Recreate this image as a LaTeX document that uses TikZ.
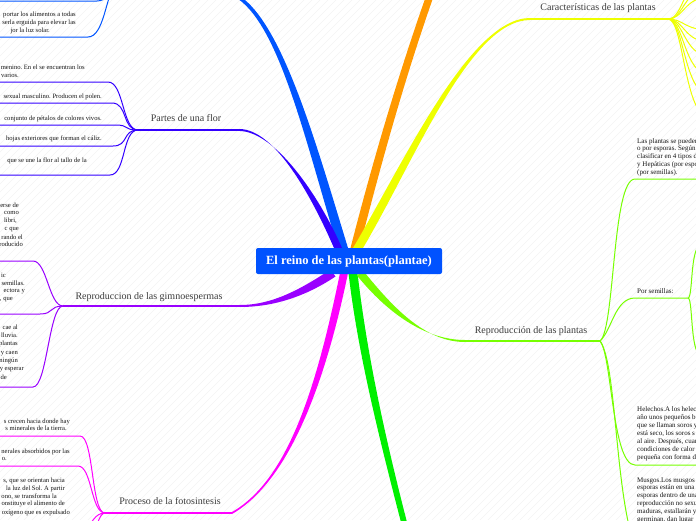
\documentclass[tikz,border=0pt]{standalone}
\usepackage{fontspec}
\setmainfont{Liberation Serif}
\usetikzlibrary{calc}
\frenchspacing
\definecolor{cblue}{RGB}{0,82,255}
\definecolor{bblue}{RGB}{0,85,255}
\definecolor{indig}{RGB}{51,0,255}
\definecolor{orng}{RGB}{255,153,0}
\definecolor{yell}{RGB}{238,255,0}
\definecolor{purp}{RGB}{153,0,255}
\definecolor{mag}{RGB}{255,0,255}
\definecolor{grn}{RGB}{0,240,0}
\definecolor{lime}{RGB}{119,255,0}
\definecolor{ttlc}{RGB}{60,60,60}
\definecolor{txt}{RGB}{20,20,20}
\definecolor{stripec}{RGB}{244,244,244}
\newcommand\mmbranch[7]{\fill[#1] ($#2+(#6)$) .. controls ($#3+(#6)$) and ($#4+(#7)$) .. ($#5+(#7)$) -- ($#5-(#7)$) .. controls ($#4-(#7)$) and ($#3-(#6)$) .. ($#2-(#6)$) -- cycle;}
\tikzset{
  sm/.style={font=\fontsize{7}{8}\selectfont, text=txt, inner sep=0pt},
  le/.style={sm, font=\fontsize{6.6}{8}\selectfont, anchor=base east},
  ri/.style={sm, anchor=base west},
  ttl/.style={font=\fontsize{10}{12}\selectfont, text=ttlc, inner sep=0pt, anchor=base},
  uline/.style={line width=1.5pt},
  sline/.style={line width=1pt},
}
\begin{document}
\begin{tikzpicture}[x=1pt,y=-1pt]
\useasboundingbox (0,0) rectangle (696,520);
\clip (0,0) rectangle (696,520);
\fill[white] (0,0) rectangle (696,520);
\foreach \i in {-520,-512,...,696} \draw[stripec, line width=0.5pt] (\i,520) -- ++(520,-520);

% hubs and coordinates
\coordinate (fh) at (138,130);   % Partes de una flor hub
\coordinate (fe) at (240,130);
\coordinate (gh) at (63,306);    % gimnoespermas hub
\coordinate (ge) at (240,306);
\coordinate (ph) at (105,513);   % fotosintesis hub
\coordinate (pe) at (232,513);
\coordinate (yh) at (668,19);    % caracteristicas hub
\coordinate (ye) at (530,19);
\coordinate (lh) at (600,341);   % reproduccion plantas hub
\coordinate (le) at (465,341);
\coordinate (bh) at (115,-15);   % blue hub (outside)
\coordinate (ps) at (688,298);   % por semillas hub

% main tapered branches
\mmbranch{bblue}{(343,248)}{(310,140)}{(280,20)}{(235,-5)}{5,0}{1.2,-1.2}
\mmbranch{indig}{(338,248)}{(315,195)}{(275,131)}{(fe)}{4,0}{0,1}
\mmbranch{orng}{(355,248)}{(375,170)}{(400,80)}{(432,-10)}{4.5,0}{3.5,1}
\mmbranch{yell}{(358,248)}{(410,160)}{(470,19)}{(ye)}{5,0}{0,1}
\mmbranch{purp}{(333,273)}{(300,295)}{(270,306)}{(ge)}{2.5,3.5}{0,1}
\mmbranch{mag}{(344,273)}{(322,380)}{(290,480)}{(pe)}{4,0}{0,1}
\mmbranch{grn}{(353,273)}{(362,350)}{(380,430)}{(406,530)}{4.5,0}{3,0}
\mmbranch{lime}{(360,273)}{(390,310)}{(425,341)}{(le)}{3,-2.5}{0,1}

% level-1 underlines
\draw[indig, uline] (fe) -- (fh);
\draw[purp, uline] (ge) -- (gh);
\draw[mag, uline] (pe) -- (ph);
\draw[yell, uline] (ye) -- (yh);
\draw[lime, uline] (le) -- (lh);

% central node
\node[fill=cblue, rounded corners=2pt, minimum width=186pt, minimum height=26pt, text=white,
  font=\bfseries\fontsize{12.5}{14}\selectfont, inner sep=0pt] (root) at (349,261) {El reino de las plantas(plantae)};

% titles
\node[ttl] (t1) at (186,121.5) {Partes de una flor};
\node[ttl] (t2) at (149,299.5) {Reproduccion de las gimnoespermas};
\node[ttl] (t3) at (170,504.5) {Proceso de la fotosintesis};
\node[ttl] (t4) at (598,10.5) {Características de las plantas};
\node[ttl] (t5) at (531,333.5) {Reproducción de las plantas};

% blue (top-left) sub lines
\coordinate (b1) at (97,1); \coordinate (b2) at (88,37);
\draw[bblue, sline] (0,1) -- (b1) .. controls (107,1) and (109,-8) .. (bh);
\draw[bblue, sline] (0,37) -- (b2) .. controls (104,37) and (106,-5) .. (bh);
\node[le] (bt1) at (76,16) {portar los alimentos a todas};
\node[le] (bt2) at (76,24) {serla erguida para elevar las};
\node[le] (bt3) at (50,32) {jor la luz solar.};

% Partes de una flor
\foreach \yy/\xx [count=\k] in {82/108,103/112,125/115,146/113,175/110}{
  \coordinate (f\k) at (\xx,\yy);
  \draw[indig, sline] (fh) .. controls ($(fh)+(-16,0)$) and ($(f\k)+(16,0)$) .. (f\k) -- (0,\yy);
}
\node[le] (ft1) at (85,69) {menino. En el se encuentran los};
\node[le] (ft2) at (19,77) {varios.};
\node[le] (ft3) at (102,98) {sexual masculino. Producen el polen.};
\node[le] (ft4) at (102,120) {conjunto de pétalos de colores vivos.};
\node[le] (ft5) at (102,140) {hojas exteriores que forman el cáliz.};
\node[le] (ft6) at (87,162) {que se une la flor al tallo de la};

% gimnoespermas
\foreach \yy/\xx [count=\k] in {261/33,314/40,387/33}{
  \coordinate (g\k) at (\xx,\yy);
  \draw[purp, sline] (gh) .. controls ($(gh)+(-14,0)$) and ($(g\k)+(14,0)$) .. (g\k) -- (0,\yy);
}
\node[le] (gt1) at (19,207) {erse de};
\node[le] (gt2) at (19,214.5) {como};
\node[le] (gt3) at (17,222) {libri,};
\node[le] (gt4) at (19,230) {c que};
\node[le] (gt5) at (23,239) {rando el};
\node[le] (gt6) at (23,246.5) {roducido};
\node[le] (gt7) at (6,277) {ic};
\node[le] (gt8) at (25,285) {semillas.};
\node[le] (gt9) at (25,292) {ectora y};
\node[le] (gt10) at (13,300) {, que};
\node[le] (gt11) at (18,329) {cae al};
\node[le] (gt12) at (18,337) {lluvia.};
\node[le] (gt13) at (18,345) {plantas};
\node[le] (gt14) at (18,354) {s y caen};
\node[le] (gt15) at (18,362) {ningún};
\node[le] (gt16) at (24,370) {y esperar};
\node[le] (gt17) at (7,379) {de};

% fotosintesis
\foreach \yy/\xx [count=\k] in {436/80,466/78}{
  \coordinate (p\k) at (\xx,\yy);
  \draw[mag, sline] (ph) .. controls ($(ph)+(-14,0)$) and ($(p\k)+(14,0)$) .. (p\k) -- (0,\yy);
}
\coordinate (p3) at (80,540); \coordinate (p4) at (88,545);
\draw[mag, sline] (ph) .. controls (95,513) and (92,522) .. (p3);
\draw[mag, sline] (ph) .. controls (99,513) and (97,528) .. (p4);
\node[le] (pt1) at (70,423) {s crecen hacia donde hay};
\node[le] (pt2) at (67,430) {s minerales de la tierra.};
\node[le] (pt3) at (70,453) {nerales absorbidos por las};
\node[le] (pt4) at (7,460) {o.};
\node[le] (pt5) at (65,482) {s, que se orientan hacia};
\node[le] (pt6) at (65,490) {la luz del Sol. A partir};
\node[le] (pt7) at (57,498) {ono, se transforma la};
\node[le] (pt8) at (65,505) {onstituye el alimento de};
\node[le] (pt9) at (70,514) {oxígeno que es expulsado};

% caracteristicas fan
\foreach \yy [count=\k] in {-25,-12,-3,30,42,56,75,95,118}{
  \coordinate (y\k) at (710,\yy);
  \draw[yell, sline] (yh) .. controls (684,19) and (684,\yy) .. (y\k);
}

% reproduccion de las plantas
\coordinate (l1) at (635,179); \coordinate (l1e) at (700,179);
\coordinate (l2) at (635,298);
\coordinate (l3) at (635,465); \coordinate (l3e) at (700,465);
\coordinate (l4) at (630,530);
\draw[lime, sline] (lh) .. controls (615,330) and (612,179) .. (l1) -- (l1e);
\draw[lime, sline] (lh) .. controls (612,330) and (615,298) .. (l2) -- (ps);
\draw[lime, sline] (lh) .. controls (612,355) and (612,465) .. (l3) -- (l3e);
\draw[lime, sline] (lh) .. controls (615,360) and (615,470) .. (l4);
\coordinate (s1) at (700,245); \coordinate (s2) at (700,355);
\draw[lime, sline] (ps) .. controls (693,298) and (690,250) .. (s1);
\draw[lime, sline] (ps) .. controls (693,298) and (690,350) .. (s2);

\foreach \t [count=\k from 0] in {Las plantas se pueden,o por esporas. Según,clasificar en 4 tipos d,y Hepáticas (por espo,(por semillas).}
  \node[ri] (ra\k) at (637,143+7.8*\k) {\t};
\node[ri] (rb) at (637,293) {Por semillas:};
\foreach \t [count=\k from 0] in {Helechos.A los helec,año unos pequeños b,que se llaman soros y,{está seco, los soros s},{al aire. Después, cuan},condiciones de calor,pequeña con forma d}
  \node[ri] (rc\k) at (637,411+8*\k) {\t};
\foreach \t [count=\k from 0] in {Musgos.Los musgos,esporas están en una,esporas dentro de una,reproducción no sexu,{maduras, estallarán y},{germinan, dan lugar}}
  \node[ri] (rd\k) at (637,482+7.8*\k) {\t};
\end{tikzpicture}
\end{document}
